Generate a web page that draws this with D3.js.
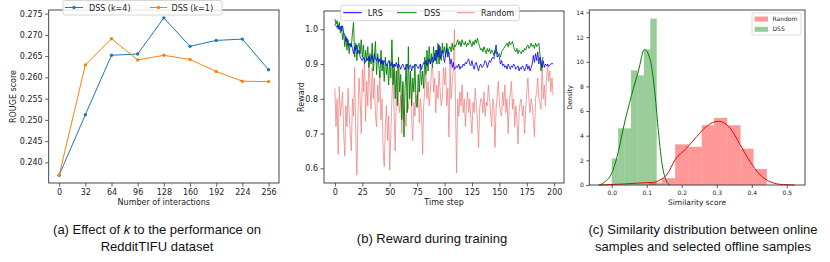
<!DOCTYPE html>
<html><head><meta charset="utf-8">
<script src="https://cdn.jsdelivr.net/npm/d3@7"></script>
<style>
body{margin:0;background:#fff}
svg{display:block}
text{font-family:"DejaVu Sans",sans-serif;fill:#222}
.cap{font-family:"Liberation Sans",Arial,sans-serif;font-size:13px;fill:#111}
</style>
</head><body>
<svg id="c" width="830" height="262"></svg>
<script>
// ---------- panel (a) data ----------
const interactions = [0, 32, 64, 96, 128, 160, 192, 224, 256];
const dssK4 = [0.2370, 0.2512, 0.2652, 0.2655, 0.2740, 0.2673, 0.2687, 0.2690, 0.2618];
const dssK1 = [0.2370, 0.2629, 0.2691, 0.2641, 0.2652, 0.2642, 0.2614, 0.2591, 0.2590];
const ticksA_x = [0, 32, 64, 96, 128, 160, 192, 224, 256];
const ticksA_y = [0.240, 0.245, 0.250, 0.255, 0.260, 0.265, 0.270, 0.275];

// ---------- panel (b) data ----------
const lrs = [
1.015,1.01,1.005,1.012,1.0,1.008,0.995,1.01,0.99,0.985,
0.965,0.975,0.955,0.96,0.95,0.958,0.945,0.93,0.95,0.94,
0.955,0.93,0.94,0.92,0.915,0.91,0.92,0.912,0.905,0.918,
0.91,0.922,0.908,0.915,0.925,0.905,0.93,0.915,0.91,0.92,
0.905,0.915,0.9,0.912,0.898,0.91,0.905,0.895,0.9,0.91,
0.902,0.895,0.905,0.89,0.9,0.893,0.905,0.89,0.9,0.895,
0.885,0.895,0.9,0.89,0.883,0.895,0.9,0.885,0.893,0.898,
0.88,0.895,0.89,0.898,0.9,0.892,0.887,0.895,0.9,0.885,
0.895,0.905,0.9,0.91,0.895,0.905,0.915,0.9,0.91,0.92,
0.905,0.93,0.91,0.94,0.92,0.955,0.915,0.93,0.94,0.92,
0.905,0.93,0.945,0.92,0.935,0.9,0.915,0.89,0.905,0.885,
0.888,0.895,0.89,0.9,0.885,0.893,0.89,0.9,0.895,0.905,
0.9,0.91,0.915,0.9,0.895,0.91,0.895,0.885,0.9,0.905,
0.89,0.88,0.895,0.9,0.89,0.893,0.9,0.91,0.905,0.89,
0.9,0.91,0.905,0.915,0.92,0.915,0.935,0.955,0.92,0.925,
0.92,0.9,0.91,0.895,0.9,0.89,0.895,0.885,0.9,0.893,
0.885,0.895,0.89,0.9,0.895,0.885,0.89,0.895,0.88,0.89,
0.885,0.895,0.89,0.88,0.89,0.9,0.885,0.895,0.88,0.89,
0.9,0.925,0.905,0.93,0.91,0.935,0.9,0.92,0.905,0.89,
0.91,0.89,0.9,0.895,0.9,0.893,0.898,0.9,0.902,0.9];
const dss = [
1.03,1.015,1.025,1.0,1.02,0.99,1.01,0.97,0.99,0.95,
0.98,0.94,0.97,0.93,0.96,0.95,0.99,1.02,0.92,0.96,
0.91,0.95,0.96,0.93,0.97,0.92,0.955,0.9,0.94,0.91,
0.95,0.89,0.93,0.9,0.96,0.88,0.92,0.965,0.87,0.93,
0.9,0.86,0.94,0.88,0.91,0.85,0.92,0.87,0.9,0.84,
0.91,0.86,0.97,0.84,0.9,0.8,0.88,0.78,0.92,0.82,
0.87,0.74,0.85,0.69,0.83,0.9,0.76,0.95,0.8,0.88,
0.78,0.86,0.82,0.9,0.79,0.775,0.87,0.82,0.9,0.84,
0.88,0.83,0.92,0.87,0.94,0.88,0.95,0.9,0.93,0.89,
0.95,0.91,0.94,0.9,0.96,0.9,0.95,0.91,0.96,0.93,
0.95,0.92,0.96,0.93,0.945,0.95,0.935,0.96,0.94,0.955,
0.95,0.96,0.97,0.955,0.965,0.95,0.97,0.96,0.955,0.965,
0.95,0.96,0.955,0.97,0.96,0.95,0.965,0.955,0.97,0.96,
0.975,0.96,0.95,0.94,0.945,0.935,0.95,0.94,0.93,0.945,
0.935,0.945,0.93,0.94,0.935,0.925,0.94,0.93,0.935,0.925,
0.93,0.92,0.935,0.94,0.945,0.95,0.955,0.96,0.95,0.965,
0.955,0.96,0.965,0.95,0.94,0.935,0.945,0.93,0.94,0.935,
0.93,0.94,0.935,0.945,0.94,0.95,0.955,0.945,0.95,0.96,
0.95,0.955,0.945,0.96,0.95,0.955,0.96,0.93,0.88,0.91,
0.92];
const random = [
0.83,0.72,0.8,0.64,0.835,0.75,0.78,0.82,0.7,0.635,
0.78,0.72,0.83,0.76,0.7,0.65,0.8,0.75,0.89,0.7,
0.58,0.75,0.86,0.8,0.7,0.885,0.82,0.91,0.735,0.85,
0.78,0.92,0.83,0.77,0.89,0.8,0.86,0.75,0.72,0.84,
0.79,0.88,0.74,0.8,0.65,0.605,0.72,0.78,0.68,0.75,
0.595,0.7,0.8,0.88,0.76,0.65,0.82,0.9,0.79,0.76,
0.81,0.7,0.84,0.78,0.75,0.72,0.8,0.77,0.83,0.86,
0.74,0.68,0.79,0.75,0.81,0.78,0.83,0.73,0.8,0.76,
0.64,0.78,0.83,0.87,0.8,0.85,0.78,0.82,0.88,0.9,
0.82,0.86,0.76,0.84,0.8,0.88,0.82,0.78,0.8,0.89,
0.84,0.89,0.78,0.83,0.69,0.9,0.8,0.85,0.88,1.0,
0.78,0.587,0.8,0.75,0.82,0.78,0.84,0.76,0.8,0.72,
0.78,0.82,0.76,0.8,0.74,0.7,0.79,0.76,0.83,0.78,
0.74,0.66,0.77,0.8,0.8,0.76,0.82,0.75,0.79,0.78,
0.84,0.8,0.76,0.72,0.8,0.78,0.66,0.77,0.81,0.85,
0.79,0.76,0.75,0.82,0.78,0.84,0.76,0.8,0.7,0.78,
0.82,0.85,0.77,0.8,0.72,0.78,0.74,0.67,0.76,0.79,
0.8,0.75,0.78,0.7,0.77,0.82,0.86,0.8,0.76,0.8,
0.78,0.74,0.69,0.8,0.82,0.86,0.8,0.79,0.77,0.91,
0.8,0.84,0.78,0.86,0.9,0.85,0.88,0.82,0.86,0.81];
const ticksB_x = [0, 25, 50, 75, 100, 125, 150, 175, 200];
const ticksB_y = [0.6, 0.7, 0.8, 0.9, 1.0];

// ---------- panel (c) data ----------
const dssBinEdges = [0.0, 0.0184, 0.0367, 0.0551, 0.0734, 0.0918, 0.1101, 0.1285];
const dssBinHeights = [2.15, 4.6, 4.6, 9.3, 8.9, 11.0, 13.5];
const randomBinEdges = [0.106, 0.143, 0.181, 0.219, 0.257, 0.292, 0.330, 0.368, 0.405, 0.443];
const randomBinHeights = [0.2, 0.55, 3.3, 3.1, 4.85, 5.45, 4.85, 2.95, 1.3];
const dssKdeX = [-0.038,-0.0334,-0.0191,0.0,0.019,0.0333,0.0571,0.0762,0.0933,0.1095,0.1238,0.1333,0.1428,0.155,0.166];
const dssKdeY = [0,0.02,0.27,0.95,2.72,4.62,7.34,9.24,11.0,10.2,7.34,4.35,1.9,0.4,0];
const randomKdeX = [-0.035,0.0333,0.081,0.119,0.138,0.157,0.181,0.214,0.243,0.271,0.305,0.338,0.367,0.395,0.424,0.452,0.49,0.522];
const randomKdeY = [0,0.08,0.16,0.22,0.41,0.82,2.04,3.0,3.94,4.76,5.17,4.62,3.26,1.9,0.82,0.27,0.03,0];
const ticksC_x = [0.0, 0.1, 0.2, 0.3, 0.4, 0.5];
const ticksC_y = [0, 2, 4, 6, 8, 10, 12, 14];

const svg = d3.select("#c");
svg.append("rect").attr("width",830).attr("height",262).attr("fill","#fff");

function frame(g, x, y, xt, yt, xf, yf, fs, ts){
  const [x0,x1] = x.range(), [y0,y1] = y.range();
  const ax = g.append("g").attr("transform",`translate(0,${y0})`)
    .call(d3.axisBottom(x).tickValues(xt).tickFormat(xf).tickSize(ts).tickPadding(2.5).tickSizeOuter(0));
  const ay = g.append("g").attr("transform",`translate(${x0},0)`)
    .call(d3.axisLeft(y).tickValues(yt).tickFormat(yf).tickSize(ts).tickPadding(2.5).tickSizeOuter(0));
  [ax,ay].forEach(a=>{
    a.select(".domain").remove();
    a.selectAll("line").attr("stroke","#333").attr("stroke-width",0.8);
    a.selectAll("text").attr("font-size",fs).attr("fill","#222").style("font-family","DejaVu Sans");
  });
  g.append("rect").attr("x",x0).attr("y",y1).attr("width",x1-x0).attr("height",y0-y1)
    .attr("fill","none").attr("stroke","#333").attr("stroke-width",0.9);
}

// ================= Panel (a) =================
{
  const g = svg.append("g");
  const x = d3.scaleLinear().domain([-12.8, 268.8]).range([48.7, 279]);
  const y = d3.scaleLinear().domain([0.23515, 0.27585]).range([183, 10]);
  const series = [{v:dssK4, c:"#1f77b4", n:"DSS (k=4)"},{v:dssK1, c:"#ff7f0e", n:"DSS (k=1)"}];
  const line = d3.line().x((d,i)=>x(interactions[i])).y(d=>y(d));
  series.forEach(s=>{
    g.append("path").attr("d",line(s.v)).attr("fill","none").attr("stroke",s.c).attr("stroke-width",1);
    g.selectAll(null).data(s.v).join("circle").attr("cx",(d,i)=>x(interactions[i])).attr("cy",d=>y(d))
      .attr("r",1.7).attr("fill",s.c);
  });
  frame(g, x, y, ticksA_x, ticksA_y, d3.format("d"), d3.format(".3f"), 8, 3.5);
  g.append("text").attr("x",163.8).attr("y",205).attr("text-anchor","middle").attr("font-size",8).text("Number of interactions");
  g.append("text").attr("transform","translate(13.3,96.5) rotate(-90)").attr("dy","0.35em").attr("text-anchor","middle").attr("font-size",8).text("ROUGE score");
  const lg = g.append("g");
  lg.append("rect").attr("x",63).attr("y",0.5).attr("width",159).attr("height",14.5).attr("rx",2)
    .attr("fill","#fff").attr("fill-opacity",0.85).attr("stroke","#ccc").attr("stroke-width",0.8);
  [[65,83,89],[150,167,171.5]].forEach((p,k)=>{
    const s = series[k];
    lg.append("line").attr("x1",p[0]).attr("x2",p[1]).attr("y1",7.5).attr("y2",7.5).attr("stroke",s.c).attr("stroke-width",1);
    lg.append("circle").attr("cx",(p[0]+p[1])/2).attr("cy",7.5).attr("r",1.7).attr("fill",s.c);
    lg.append("text").attr("x",p[2]).attr("y",10.5).attr("font-size",8).text(s.n);
  });
}

// ================= Panel (b) =================
{
  const g = svg.append("g");
  const x = d3.scaleLinear().domain([-9.95, 208.95]).range([324, 564]);
  const y = d3.scaleLinear().domain([0.5577, 1.0527]).range([183, 11]);
  const line = d3.line().x((d,i)=>x(i)).y(d=>y(d));
  const series = [
    {v:random, c:"#f08080", w:0.9, o:0.85, n:"Random"},
    {v:dss, c:"#008000", w:0.9, o:1, n:"DSS"},
    {v:lrs, c:"#0000ff", w:0.8, o:1, n:"LRS"}];
  series.forEach(s=>{
    g.append("path").attr("d",line(s.v)).attr("fill","none").attr("stroke",s.c)
      .attr("stroke-width",s.w).attr("stroke-opacity",s.o).attr("stroke-linejoin","round");
  });
  frame(g, x, y, ticksB_x, ticksB_y, d3.format("d"), d3.format(".1f"), 8, 3.5);
  g.append("text").attr("x",444).attr("y",205).attr("text-anchor","middle").attr("font-size",8).text("Time step");
  g.append("text").attr("transform","translate(300.7,97) rotate(-90)").attr("dy","0.35em").attr("text-anchor","middle").attr("font-size",8).text("Reward");
  const lg = g.append("g");
  lg.append("rect").attr("x",340.7).attr("y",5.3).attr("width",178.6).attr("height",15.4).attr("rx",2)
    .attr("fill","#fff").attr("fill-opacity",0.85).attr("stroke","#ccc").attr("stroke-width",0.8);
  const items = [[343.3,361.7,367.7,series[2]],[397,416.5,424,series[1]],[456.7,474.5,481,series[0]]];
  items.forEach(p=>{
    lg.append("line").attr("x1",p[0]).attr("x2",p[1]).attr("y1",12.7).attr("y2",12.7).attr("stroke",p[3].c).attr("stroke-width",1);
    lg.append("text").attr("x",p[2]).attr("y",15.7).attr("font-size",8).text(p[3].n);
  });
}

// ================= Panel (c) =================
{
  const g = svg.append("g");
  const x = d3.scaleLinear().domain([-0.064, 0.552]).range([589.3, 805]);
  const y = d3.scaleLinear().domain([0, 14.2]).range([185, 10]);
  const bars = (edges, heights, fill) => {
    g.append("g").selectAll("rect").data(heights).join("rect")
      .attr("x",(d,i)=>x(edges[i])).attr("width",(d,i)=>x(edges[i+1])-x(edges[i]))
      .attr("y",d=>y(d)).attr("height",d=>y(0)-y(d)).attr("fill",fill);
  };
  bars(randomBinEdges, randomBinHeights, "rgba(255,0,0,0.4)");
  bars(dssBinEdges, dssBinHeights, "rgba(0,128,0,0.4)");
  const kde = (xs, ys, c) => {
    const l = d3.line().x((d,i)=>x(xs[i])).y(d=>y(d)).curve(d3.curveMonotoneX);
    g.append("path").attr("d",l(ys)).attr("fill","none").attr("stroke",c).attr("stroke-width",1);
  };
  kde(randomKdeX, randomKdeY, "#ff0000");
  kde(dssKdeX, dssKdeY, "#008000");
  frame(g, x, y, ticksC_x, ticksC_y, d3.format(".1f"), d3.format("d"), 6, 3);
  g.append("text").attr("x",697).attr("y",205).attr("text-anchor","middle").attr("font-size",7.5).text("Similarity score");
  g.append("text").attr("transform","translate(570,97.5) rotate(-90)").attr("dy","0.35em").attr("text-anchor","middle").attr("font-size",6.5).text("Density");
  const lg = g.append("g");
  lg.append("rect").attr("x",752).attr("y",13).attr("width",49).attr("height",22).attr("rx",1.5)
    .attr("fill","#fff").attr("fill-opacity",0.85).attr("stroke","#ccc").attr("stroke-width",0.7);
  [["Random","rgba(255,0,0,0.4)",16.5],["DSS","rgba(0,128,0,0.4)",26.8]].forEach(p=>{
    lg.append("rect").attr("x",754.5).attr("y",p[2]).attr("width",13.5).attr("height",5).attr("fill",p[1]);
    lg.append("text").attr("x",772.5).attr("y",p[2]+4.6).attr("font-size",6).text(p[0]);
  });
}

// ================= Captions =================
{
  const c1 = svg.append("text").attr("class","cap").attr("x",157).attr("y",233.8).attr("text-anchor","middle");
  c1.append("tspan").text("(a) Effect of ");
  c1.append("tspan").attr("font-style","italic").text("k");
  c1.append("tspan").text(" to the performance on");
  svg.append("text").attr("class","cap").attr("x",157).attr("y",251).attr("text-anchor","middle").text("RedditTIFU dataset");
  svg.append("text").attr("class","cap").attr("x",432).attr("y",242.5).attr("text-anchor","middle").text("(b) Reward during training");
  svg.append("text").attr("class","cap").attr("x",703).attr("y",233.8).attr("text-anchor","middle").text("(c) Similarity distribution between online");
  svg.append("text").attr("class","cap").attr("x",703).attr("y",251).attr("text-anchor","middle").text("samples and selected offline samples");
}
</script>
</body></html>
